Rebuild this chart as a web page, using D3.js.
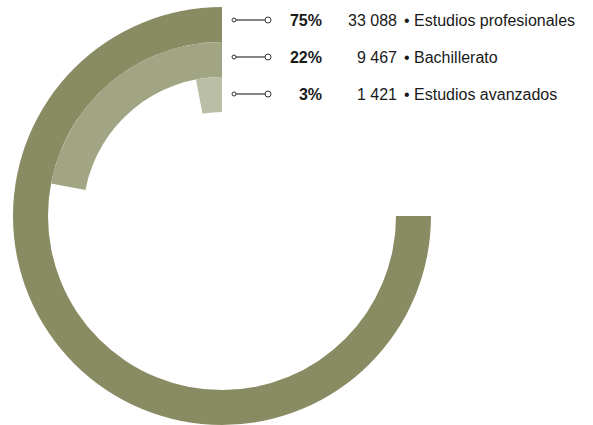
<!DOCTYPE html>
<html>
<head>
<meta charset="utf-8">
<script src="https://cdnjs.cloudflare.com/ajax/libs/d3/7.8.5/d3.min.js"></script>
<style>
  body { margin: 0; background: #fff; }
  text { font-family: "Liberation Sans", Arial, Helvetica, sans-serif; fill: #1a1a1a; }
</style>
</head>
<body>
<div id="chart"></div>
<script>
// datos
var categorias = ["Estudios profesionales", "Bachillerato", "Estudios avanzados"];
var porcentajes = [75, 22, 3];
var cantidades = ["33 088", "9 467", "1 421"];
var colores = ["#898c62", "#a1a583", "#babea4"];

var width = 593, height = 425;
var cx = 222, cy = 216;

var svg = d3.select("#chart")
  .append("svg")
  .attr("width", width)
  .attr("height", height);

var data = categorias.map(function(c, i) {
  return { name: c, pct: porcentajes[i], n: cantidades[i], color: colores[i] };
});

// escala angular (0-100% -> vuelta completa)
var aScale = d3.scaleLinear().domain([0, 100]).range([0, 2 * Math.PI]);
// anillos
var rScale = d3.scaleBand().domain(categorias).range([209, 104]).padding(0);

var arc = d3.arc()
  .innerRadius(function(d) { return rScale(d.name); })
  .outerRadius(function(d) { return rScale(d.name) + rScale.bandwidth(); })
  .startAngle(function(d) { return -aScale(d.pct); })
  .endAngle(0);

var g = svg.append("g").attr("transform", "translate(" + cx + "," + cy + ")");

g.selectAll("path")
  .data(data)
  .enter()
  .append("path")
  .attr("d", arc)
  .attr("fill", function(d) { return d.color; });

// leyenda
var yScale = d3.scalePoint().domain(categorias).range([20, 94]);

var filas = svg.append("g").selectAll("g")
  .data(data)
  .enter()
  .append("g")
  .attr("transform", function(d) { return "translate(0," + yScale(d.name) + ")"; });

filas.append("line")
  .attr("x1", 236).attr("x2", 265)
  .attr("y1", 0).attr("y2", 0)
  .attr("stroke", "#333").attr("stroke-width", 1.2);

filas.append("circle")
  .attr("cx", 234).attr("cy", 0).attr("r", 2)
  .attr("fill", "#fff").attr("stroke", "#333").attr("stroke-width", 1);

filas.append("circle")
  .attr("cx", 268).attr("cy", 0).attr("r", 3)
  .attr("fill", "#fff").attr("stroke", "#333").attr("stroke-width", 1);

filas.append("text")
  .attr("x", 322).attr("y", 6)
  .attr("text-anchor", "end")
  .style("font-size", "16px")
  .style("font-weight", "bold")
  .text(function(d) { return d.pct + "%"; });

filas.append("text")
  .attr("x", 397).attr("y", 6)
  .attr("text-anchor", "end")
  .style("font-size", "16px")
  .text(function(d) { return d.n; });

filas.append("text")
  .attr("x", 404).attr("y", 6)
  .style("font-size", "16px")
  .text(function(d) { return "\u2022 " + d.name; });
</script>
</body>
</html>
